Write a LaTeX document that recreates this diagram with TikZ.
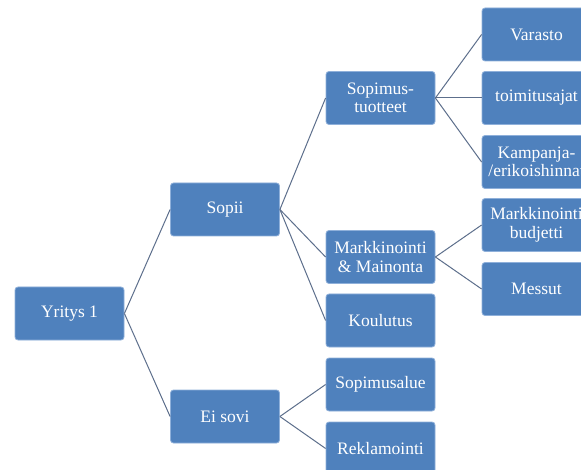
\documentclass[tikz,border=0pt]{standalone}
\usepackage{fontspec}
\setmainfont{Liberation Serif}
\newfontfamily\boxfont{Liberation Serif}
\definecolor{boxfill}{HTML}{4F81BD}
\definecolor{boxedge}{HTML}{8FB0DA}
\definecolor{linkcol}{HTML}{5D6F8C}
\tikzset{
  orgbox/.style={rectangle, rounded corners=3pt, fill=boxfill, draw=boxedge, line width=0.8pt,
    minimum width=109pt, minimum height=53pt, inner sep=2pt, text=white, align=center,
    font=\boxfont\fontsize{17.5}{18.5}\selectfont},
  link/.style={draw=linkcol, line width=1pt}
}
\begin{document}
\begin{tikzpicture}[x=1pt,y=-1pt]
\clip (0,0) rectangle (581,470);
\fill[white] (0,0) rectangle (581,470);
% column 1
\node[orgbox] (y1) at (69.5,313.5) {Yritys 1};
% column 2
\node[orgbox] (sopii) at (225,209.5) {Sopii};
\node[orgbox] (eisovi) at (225,416.5) {Ei sovi};
% column 3
\node[orgbox] (st) at (380.5,98) {Sopimus-\\tuotteet};
\node[orgbox] (mm) at (380.5,257) {Markkinointi\\\& Mainonta};
\node[orgbox] (kou) at (380.5,320.5) {Koulutus};
\node[orgbox] (sa) at (380.5,384.5) {Sopimusalue};
\node[orgbox] (rek) at (380.5,448.5) {Reklamointi};
% column 4
\node[orgbox] (var) at (536.5,34.5) {Varasto};
\node[orgbox] (toim) at (536.5,98) {toimitusajat};
\node[orgbox] (kamp) at (536.5,162) {Kampanja-\\\makebox[0pt]{/erikoishinnat}};
\node[orgbox] (mb) at (536.5,225) {\makebox[0pt]{Markkinointi}\\budjetti};
\node[orgbox] (mess) at (536.5,289) {Messut};
% connectors
\draw[link] (y1.east) -- (sopii.west);
\draw[link] (y1.east) -- (eisovi.west);
\draw[link] (sopii.east) -- (st.west);
\draw[link] (sopii.east) -- (mm.west);
\draw[link] (sopii.east) -- (kou.west);
\draw[link] (eisovi.east) -- (sa.west);
\draw[link] (eisovi.east) -- (rek.west);
\draw[link] (st.east) -- (var.west);
\draw[link] (st.east) -- (toim.west);
\draw[link] (st.east) -- (kamp.west);
\draw[link] (mm.east) -- (mb.west);
\draw[link] (mm.east) -- (mess.west);
\end{tikzpicture}
\end{document}
